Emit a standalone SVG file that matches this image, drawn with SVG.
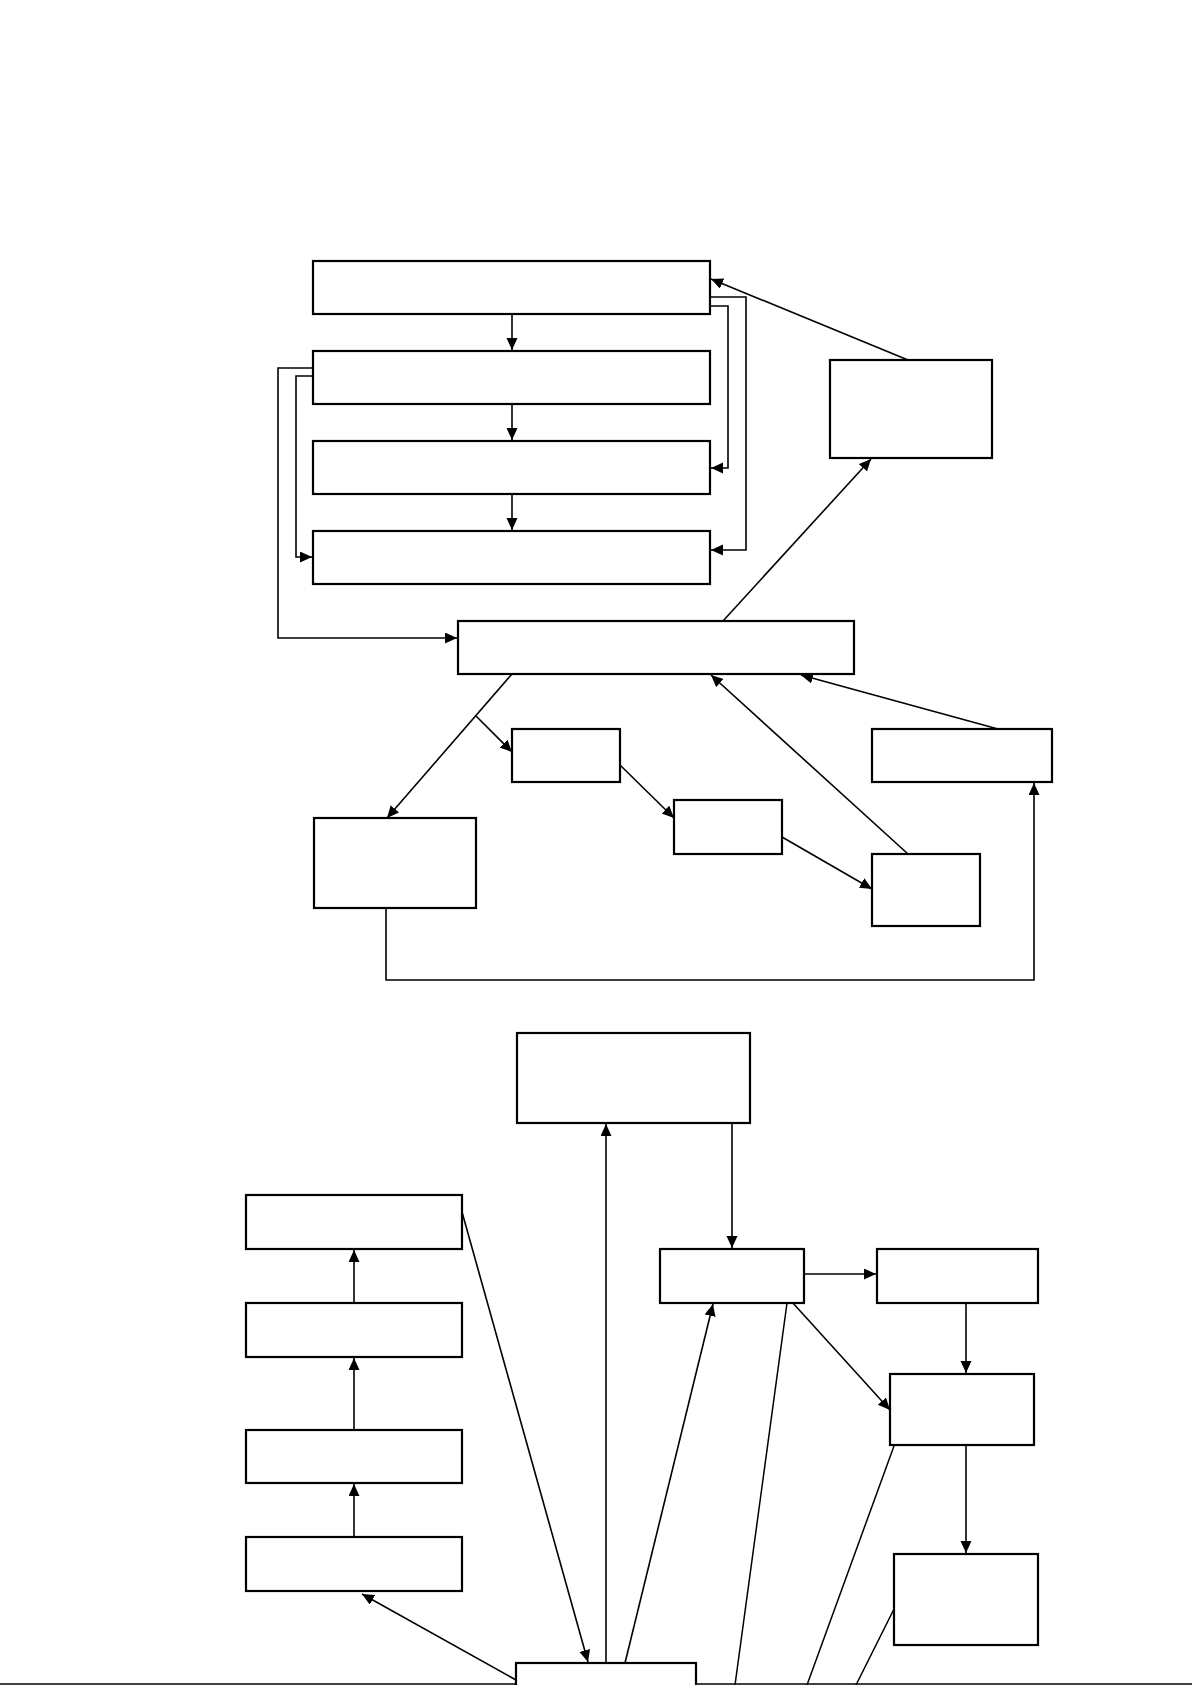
<svg xmlns="http://www.w3.org/2000/svg" width="1192" height="1685" viewBox="0 0 1192 1685">
<style>
.box{fill:#fff;stroke:#000;stroke-width:2.2}
.c{fill:none;stroke:#000;stroke-width:1.5}
.a{fill:none;stroke:#000;stroke-width:1.6;marker-end:url(#arr)}
</style>
<defs>
<marker id="arr" markerUnits="userSpaceOnUse" markerWidth="14" markerHeight="12" refX="12" refY="5.5" orient="auto">
<path d="M0,0 L12,5.5 L0,11 z" fill="#000"/>
</marker>
</defs>
<rect width="1192" height="1685" fill="#fff"/>
<g id="connectors">
<path class="a" d="M512,314 V350"/>
<path class="a" d="M512,404 V440"/>
<path class="a" d="M512,494 V530"/>
<path class="a" d="M710,297 H746 V550 H711"/>
<path class="a" d="M710,306 H728 V468 H711"/>
<path class="a" d="M313,368 H278 V638 H457"/>
<path class="a" d="M313,376 H296 V557 H312"/>
<path class="a" d="M908,360 L711,279"/>
<path class="a" d="M723,621 L871,459"/>
<path class="a" d="M512,674 L387,818"/>
<path class="a" d="M476,716 L512,752"/>
<path class="a" d="M620,765 L674,818"/>
<path class="a" d="M782,837 L872,889"/>
<path class="a" d="M908,854 L711,675"/>
<path class="a" d="M998,729 L801,675"/>
<path class="a" d="M386,908 V980 H1034 V783"/>
<path class="a" d="M732,1123 V1248"/>
<path class="a" d="M804,1274 H876"/>
<path class="a" d="M966,1303 V1373"/>
<path class="a" d="M792,1302 L890,1410"/>
<path class="a" d="M966,1445 V1553"/>
<path class="a" d="M354,1303 V1250"/>
<path class="a" d="M354,1430 V1358"/>
<path class="a" d="M354,1537 V1484"/>
<path class="a" d="M516,1680 L362,1594"/>
<path class="a" d="M462,1212 L588,1662"/>
<path class="a" d="M606,1663 V1124"/>
<path class="a" d="M625,1663 L713,1304"/>
<path class="c" d="M787,1303 L735,1685"/>
<path class="c" d="M894,1446 L807,1685"/>
<path class="c" d="M894,1609 L856,1685"/>
<path class="c" d="M0,1684 H1192"/>
</g>
<g id="nA"><rect class="box" x="313" y="261" width="397" height="53"/></g>
<g id="nB"><rect class="box" x="313" y="351" width="397" height="53"/></g>
<g id="nC"><rect class="box" x="313" y="441" width="397" height="53"/></g>
<g id="nD"><rect class="box" x="313" y="531" width="397" height="53"/></g>
<g id="nE"><rect class="box" x="458" y="621" width="396" height="53"/></g>
<g id="nF"><rect class="box" x="830" y="360" width="162" height="98"/></g>
<g id="nG"><rect class="box" x="314" y="818" width="162" height="90"/></g>
<g id="nH"><rect class="box" x="512" y="729" width="108" height="53"/></g>
<g id="nI"><rect class="box" x="674" y="800" width="108" height="54"/></g>
<g id="nJ"><rect class="box" x="872" y="729" width="180" height="53"/></g>
<g id="nK"><rect class="box" x="872" y="854" width="108" height="72"/></g>
<g id="nL"><rect class="box" x="517" y="1033" width="233" height="90"/></g>
<g id="nM"><rect class="box" x="660" y="1249" width="144" height="54"/></g>
<g id="nN"><rect class="box" x="246" y="1195" width="216" height="54"/></g>
<g id="nO"><rect class="box" x="246" y="1303" width="216" height="54"/></g>
<g id="nP"><rect class="box" x="246" y="1430" width="216" height="53"/></g>
<g id="nQ"><rect class="box" x="246" y="1537" width="216" height="54"/></g>
<g id="nR"><rect class="box" x="877" y="1249" width="161" height="54"/></g>
<g id="nS"><rect class="box" x="890" y="1374" width="144" height="71"/></g>
<g id="nT"><rect class="box" x="894" y="1554" width="144" height="91"/></g>
<g id="nU"><rect class="box" x="516" y="1663" width="180" height="40"/></g>
</svg>
